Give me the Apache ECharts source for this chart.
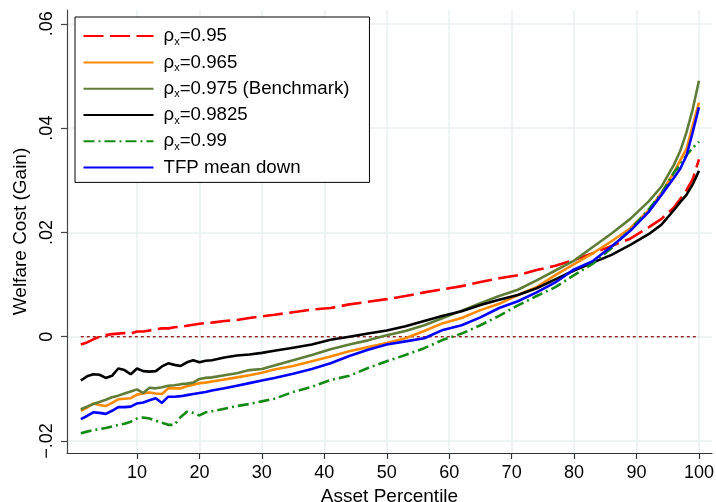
<!DOCTYPE html>
<html><head><meta charset="utf-8">
<script src="https://cdn.jsdelivr.net/npm/echarts@6/dist/echarts.min.js"></script>
<style>html,body{margin:0;padding:0;background:#fff}#c{width:716px;height:502px}</style>
</head><body><div id="c"></div>
<script>
// Asset percentile positions (x)
const pct = [1,2,3,4,5,6,7,8,9,10,11,12,13,14,15,16,17,18,19,20,21,22,24,26,28,30,32,35,38,41,44,47,50,53,56,59,62,65,68,71,74,77,80,83,86,89,92,94,96,97,98,99,100];

const rho095 = [-0.0015,-0.0011,-0.0005,0.0000,0.0003,0.0005,0.0006,0.0007,0.0006,0.0010,0.0010,0.0012,0.0014,0.0016,0.0016,0.0018,0.0019,0.0021,0.0023,0.0025,0.0026,0.0027,0.0030,0.0032,0.0036,0.0039,0.0042,0.0047,0.0052,0.0055,0.0062,0.0067,0.0072,0.0078,0.0085,0.0091,0.0097,0.0105,0.0112,0.0118,0.0128,0.0136,0.0147,0.0160,0.0174,0.0188,0.0210,0.0226,0.0248,0.0264,0.0281,0.0302,0.0340];

const rho0965 = [-0.0142,-0.0136,-0.0128,-0.0131,-0.0133,-0.0127,-0.0120,-0.0119,-0.0118,-0.0111,-0.0109,-0.0107,-0.0109,-0.0110,-0.0099,-0.0099,-0.0099,-0.0095,-0.0092,-0.0089,-0.0088,-0.0086,-0.0082,-0.0078,-0.0074,-0.0069,-0.0063,-0.0056,-0.0047,-0.0038,-0.0028,-0.0020,-0.0012,-0.0003,0.0011,0.0026,0.0036,0.0051,0.0063,0.0080,0.0095,0.0118,0.0139,0.0160,0.0183,0.0208,0.0243,0.0276,0.0315,0.0338,0.0360,0.0405,0.0449];

const rho0975 = [-0.0139,-0.0134,-0.0129,-0.0125,-0.0121,-0.0116,-0.0113,-0.0109,-0.0105,-0.0101,-0.0108,-0.0098,-0.0099,-0.0097,-0.0094,-0.0093,-0.0091,-0.0090,-0.0088,-0.0081,-0.0079,-0.0078,-0.0074,-0.0070,-0.0064,-0.0062,-0.0055,-0.0045,-0.0035,-0.0024,-0.0015,-0.0007,0.0003,0.0011,0.0022,0.0036,0.0050,0.0064,0.0078,0.0090,0.0108,0.0127,0.0146,0.0172,0.0198,0.0226,0.0260,0.0288,0.0330,0.0356,0.0392,0.0436,0.0491];

const rho09825 = [-0.0084,-0.0076,-0.0072,-0.0073,-0.0079,-0.0075,-0.0061,-0.0064,-0.0072,-0.0061,-0.0066,-0.0067,-0.0066,-0.0057,-0.0051,-0.0054,-0.0056,-0.0049,-0.0045,-0.0049,-0.0046,-0.0045,-0.0040,-0.0036,-0.0034,-0.0031,-0.0027,-0.0021,-0.0015,-0.0006,0.0000,0.0006,0.0012,0.0020,0.0030,0.0040,0.0049,0.0061,0.0071,0.0080,0.0093,0.0110,0.0127,0.0142,0.0157,0.0176,0.0197,0.0215,0.0243,0.0258,0.0272,0.0292,0.0318];

const rho099 = [-0.0185,-0.0182,-0.0179,-0.0177,-0.0175,-0.0172,-0.0169,-0.0167,-0.0163,-0.0157,-0.0155,-0.0157,-0.0161,-0.0165,-0.0169,-0.0169,-0.0154,-0.0144,-0.0146,-0.0151,-0.0145,-0.0143,-0.0138,-0.0133,-0.0129,-0.0124,-0.0119,-0.0106,-0.0096,-0.0083,-0.0075,-0.0060,-0.0047,-0.0035,-0.0022,-0.0006,0.0006,0.0022,0.0040,0.0060,0.0078,0.0095,0.0118,0.0140,0.0170,0.0205,0.0245,0.0275,0.0315,0.0330,0.0348,0.0362,0.0374];

const tfpDown = [-0.0158,-0.0152,-0.0145,-0.0146,-0.0148,-0.0142,-0.0135,-0.0135,-0.0134,-0.0128,-0.0126,-0.0122,-0.0118,-0.0127,-0.0115,-0.0115,-0.0114,-0.0112,-0.0110,-0.0108,-0.0106,-0.0103,-0.0099,-0.0094,-0.0089,-0.0084,-0.0079,-0.0071,-0.0062,-0.0051,-0.0037,-0.0025,-0.0015,-0.0009,-0.0003,0.0013,0.0022,0.0037,0.0055,0.0068,0.0085,0.0104,0.0129,0.0145,0.0173,0.0203,0.0240,0.0272,0.0305,0.0322,0.0347,0.0392,0.0440];

const zeroX = [1, 100];
const zeroY = [0, 0];

const xTicks = [10,20,30,40,50,60,70,80,90,100];
const yTicks = [-0.02,0,0.02,0.04,0.06];

const seriesNames = ['ρx=0.95','ρx=0.965','ρx=0.975 (Benchmark)','ρx=0.9825','ρx=0.99','TFP mean down'];
const seriesValues = [rho095, rho0965, rho0975, rho09825, rho099, tfpDown];
const seriesColors = ['#ff0000','#ff8a00','#5f7d37','#000000','#138a13','#0000ff'];
const seriesDash = [[20,6.5],'solid','solid','solid',[11,4,2,4],'solid'];

const FONT = "'Liberation Sans', Arial, sans-serif";
const zip = (xs, ys) => xs.map((x, i) => [x, ys[i]]);

const chart = echarts.init(document.getElementById('c'), null, {renderer: 'canvas'});

const series = [
  {
    name: 'zero', type: 'line', data: zip(zeroX, zeroY), z: 1,
    symbol: 'none', showSymbol: false,
    itemStyle: {color: '#8f2424'},
    lineStyle: {color: '#8f2424', width: 1.4, type: [3, 3], opacity: 1},
    emphasis: {disabled: true}
  }
];
seriesNames.forEach((n, i) => {
  series.push({
    name: n, type: 'line', z: 2 + i, symbol: 'none', showSymbol: false,
    data: zip(pct, seriesValues[i]),
    itemStyle: {color: seriesColors[i]},
    lineStyle: {color: seriesColors[i], width: 2.6, type: seriesDash[i]},
    emphasis: {disabled: true}
  });
});

const gridLine = {show: true, lineStyle: {color: '#e8f0f2', width: 1.5, type: 'solid'}};

const option = {
  animation: false,
  backgroundColor: '#ffffff',
  textStyle: {fontFamily: FONT},
  grid: {left: 67, right: 4, top: 10, bottom: 49, containLabel: false, outerBoundsMode: 'none'},
  legend: {
    data: seriesNames,
    orient: 'vertical',
    left: 75, top: 17,
    itemWidth: 70, itemHeight: 14, itemGap: 5.8,
    padding: [9.6, 20, 5.3, 7.5],
    backgroundColor: '#ffffff',
    borderColor: '#000000', borderWidth: 1,
    selectedMode: false,
    itemStyle: {color: 'rgba(0,0,0,0)', borderWidth: 0, opacity: 0},
    formatter: function (name) {
      if (name.indexOf('ρx') === 0) {
        return '{a|ρ}{s|x}{b|' + name.slice(2) + '}';
      }
      return '{a|' + name + '}';
    },
    textStyle: {
      fontFamily: FONT, fontSize: 18.7, color: '#000',
      rich: {
        a: {fontFamily: FONT, fontSize: 18.7, color: '#000', padding: [0,0,0,5], lineHeight: 22},
        b: {fontFamily: FONT, fontSize: 18.7, color: '#000', lineHeight: 22},
        s: {fontFamily: FONT, fontSize: 11, color: '#000', verticalAlign: 'bottom', lineHeight: 22}
      }
    }
  },
  xAxis: {
    type: 'value', min: -1.21, max: 102.09,
    name: 'Asset Percentile', nameLocation: 'middle', nameGap: 28,
    nameTextStyle: {fontFamily: FONT, fontSize: 19, color: '#000'},
    axisLine: {show: true, onZero: false, lineStyle: {color: '#333', width: 1.2}},
    axisTick: {show: true, length: 6, customValues: xTicks, lineStyle: {color: '#333', width: 1.2}},
    axisLabel: {show: true, customValues: xTicks, margin: 11, fontFamily: FONT, fontSize: 18, color: '#000'},
    splitLine: Object.assign({customValues: xTicks}, gridLine)
  },
  yAxis: {
    type: 'value', min: -0.0223, max: 0.06265,
    name: 'Welfare Cost (Gain)', nameLocation: 'middle', nameGap: 35,
    nameTextStyle: {fontFamily: FONT, fontSize: 19, color: '#000'},
    axisLine: {show: true, onZero: false, lineStyle: {color: '#444', width: 1.2}},
    axisTick: {show: true, length: 6, customValues: yTicks, lineStyle: {color: '#444', width: 1.2}},
    axisLabel: {
      show: true, customValues: yTicks, rotate: 90, margin: 11,
      fontFamily: FONT, fontSize: 18, color: '#000',
      formatter: function (v) {
        if (Math.abs(v) < 1e-9) return '0';
        const s = Math.abs(v).toFixed(2).replace(/^0/, '');
        return (v < 0 ? '\u2212' : '') + s;
      }
    },
    splitLine: Object.assign({customValues: yTicks}, gridLine)
  },
  series: series
};
chart.setOption(option);
</script>
</body></html>
